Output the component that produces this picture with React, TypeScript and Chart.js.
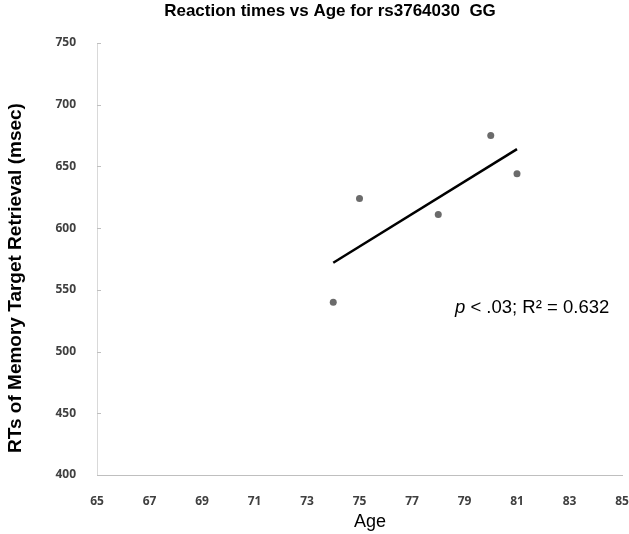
import React, { useEffect, useRef } from "react";
import { Chart, registerables } from "chart.js";

Chart.register(...registerables);

const ages = [74, 75, 78, 80, 81];
const rtValues = [540, 624, 611, 675, 644];
const trendAges = [74, 81];
const trendValues = [572, 664];
const chartTitle = "Reaction times vs Age for rs3764030  GG";
const yTitle = "RTs of Memory Target Retrieval (msec)";
const xTitle = "Age";
const statP = "p";
const statRest = " < .03; R\u00B2 = 0.632";

const textPlugin = {
  id: "textPlugin",
  afterDraw(chart: any) {
    const ctx = chart.ctx;
    const yScale = chart.scales.y;
    const area = chart.chartArea;
    ctx.save();
    ctx.strokeStyle = "#bfbfbf";
    ctx.lineWidth = 1;
    yScale.ticks.forEach((t: any) => {
      const py = Math.round(yScale.getPixelForValue(t.value)) + 0.5;
      ctx.beginPath();
      ctx.moveTo(area.left, py);
      ctx.lineTo(area.left + 4, py);
      ctx.stroke();
    });
    ctx.fillStyle = "#000";
    ctx.textBaseline = "middle";
    ctx.textAlign = "center";
    ctx.font = "bold 17px 'Liberation Sans', Arial, sans-serif";
    ctx.fillText(chartTitle, 330, 11);
    ctx.font = "18px 'Liberation Sans', Arial, sans-serif";
    ctx.fillText(xTitle, 370, 522);
    ctx.save();
    ctx.translate(16, 278);
    ctx.rotate(-Math.PI / 2);
    ctx.font = "bold 19px 'Liberation Sans', Arial, sans-serif";
    ctx.fillText(yTitle, 0, 0);
    ctx.restore();
    ctx.textAlign = "left";
    ctx.font = "italic 18.5px 'Liberation Sans', Arial, sans-serif";
    const x0 = 455;
    ctx.fillText(statP, x0, 308);
    const w = ctx.measureText(statP).width;
    ctx.font = "18.5px 'Liberation Sans', Arial, sans-serif";
    ctx.fillText(statRest, x0 + w, 308);
    ctx.restore();
  },
};

export default function App() {
  const ref = useRef<HTMLCanvasElement | null>(null);
  useEffect(() => {
    if (!ref.current) return;
    const chart = new Chart(ref.current, {
      type: "scatter",
      data: {
        datasets: [
          {
            label: "RT",
            data: ages.map((a, i) => ({ x: a, y: rtValues[i] })),
            backgroundColor: "#6b6b6b",
            borderColor: "#6b6b6b",
            pointRadius: 3.5,
            pointBorderWidth: 0,
            showLine: false,
          },
          {
            label: "Trend",
            data: trendAges.map((a, i) => ({ x: a, y: trendValues[i] })),
            borderColor: "#000000",
            borderWidth: 2.5,
            showLine: true,
            pointRadius: 0,
            fill: false,
          },
        ],
      },
      options: {
        animation: false,
        responsive: false,
        maintainAspectRatio: false,
        layout: { padding: { top: 43, right: 7, left: 0, bottom: 0 } },
        plugins: {
          legend: { display: false },
          title: { display: false },
          tooltip: { enabled: false },
        },
        scales: {
          x: {
            type: "linear",
            min: 65,
            max: 85,
            grid: { display: false },
            border: { display: true, color: "#bfbfbf", width: 1 },
            ticks: {
              stepSize: 2,
              padding: 11,
              color: "#404040",
              font: { family: "'Open Sans', sans-serif", size: 12, weight: "bold" },
              maxRotation: 0,
            },
            afterFit(scale: any) {
              scale.height = 59;
              scale.paddingLeft = 0;
              scale.paddingRight = 0;
            },
          },
          y: {
            type: "linear",
            min: 400,
            max: 750,
            grid: { display: false },
            border: { display: true, color: "#d9d9d9", width: 1 },
            ticks: {
              stepSize: 50,
              padding: 13,
              color: "#404040",
              font: { family: "'Open Sans', sans-serif", size: 12, weight: "bold" },
            },
            afterFit(scale: any) {
              scale.width = 97;
              scale.paddingTop = 0;
              scale.paddingBottom = 0;
            },
          },
        },
      },
      plugins: [textPlugin],
    });
    return () => chart.destroy();
  }, []);
  return (
    <div style={{ position: "absolute", left: 0, top: 0, width: 629, height: 534, background: "#fff" }}>
      <canvas ref={ref} width={629} height={534} style={{ width: 629, height: 534 }} />
    </div>
  );
}
